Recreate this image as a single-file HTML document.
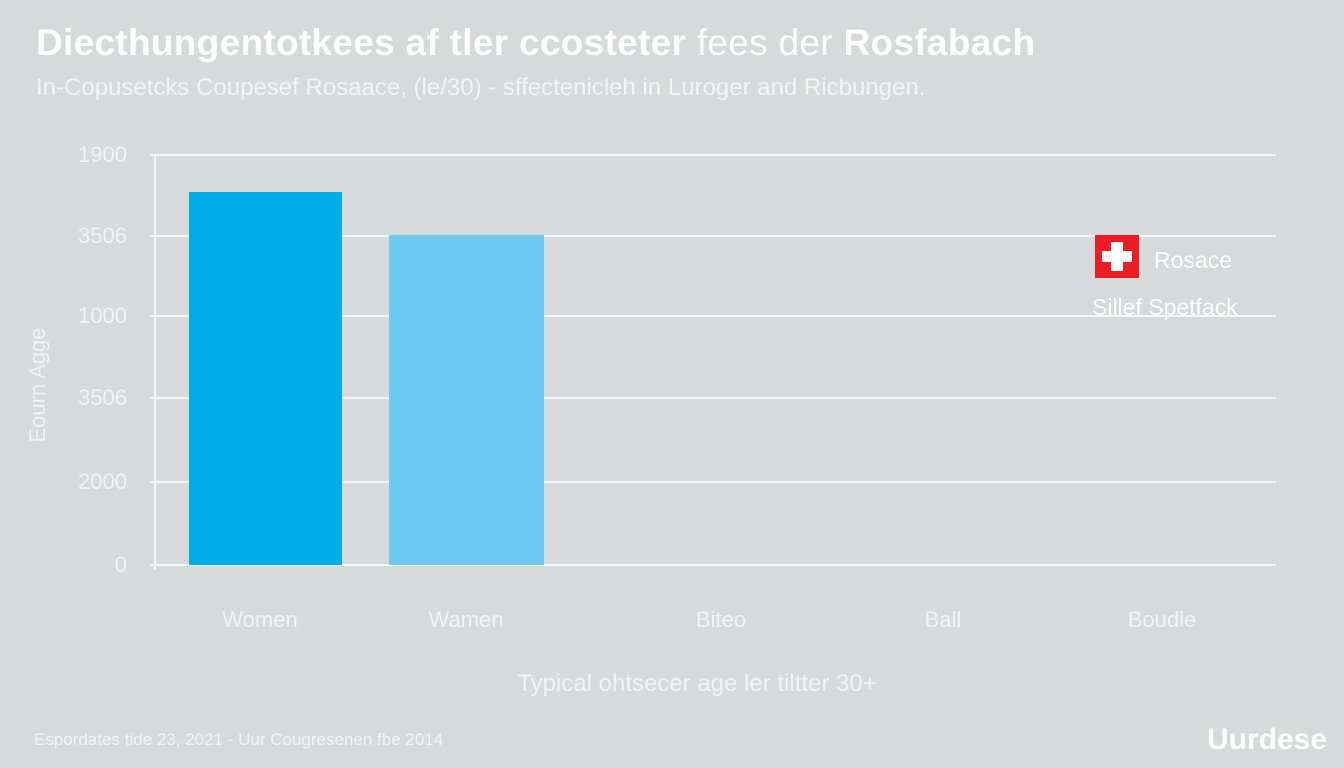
<!DOCTYPE html>
<html><head><style>
body{margin:0;width:1344px;height:768px;background:#d6dadb;font-family:"Liberation Sans",sans-serif;overflow:hidden;position:relative;color:#fff}
.a{position:absolute;white-space:nowrap}
.g{position:absolute;left:150px;width:1126px;height:2px;background:#f4f6f6}
.yl{position:absolute;right:1217px;font-size:22px;color:#f2f4f4}
.xl{position:absolute;font-size:22px;color:#f2f4f4;transform:translateX(-50%)}
</style></head><body>
<div class="a" style="left:36px;top:22px;font-size:37px;font-weight:bold;letter-spacing:0.3px">Diecthungentotkees af tler ccosteter <span style="font-weight:normal">fees der</span> Rosfabach</div>
<div class="a" style="left:36px;top:74px;font-size:24px;color:#f3f5f5">In-Copusetcks Coupesef Rosaace, (le/30) - sffectenicleh in Luroger and Ricbungen.</div>
<div class="g" style="top:154px"></div>
<div class="g" style="top:235px"></div>
<div class="g" style="top:315px"></div>
<div class="g" style="top:397px"></div>
<div class="g" style="top:481px"></div>
<div class="g" style="top:564px"></div>
<div class="a" style="left:154px;top:155px;width:2px;height:415px;background:#f4f6f6"></div>
<div class="yl" style="top:142px">1900</div>
<div class="yl" style="top:223px">3506</div>
<div class="yl" style="top:303px">1000</div>
<div class="yl" style="top:385px">3506</div>
<div class="yl" style="top:469px">2000</div>
<div class="yl" style="top:552px">0</div>
<div class="a" style="left:38px;top:385px;font-size:22px;transform:translate(-50%,-50%) rotate(-90deg);color:#f2f4f4">Eourn Agge</div>
<div class="a" style="left:189px;top:192px;width:153px;height:373px;background:#00adea"></div>
<div class="a" style="left:389px;top:235px;width:155px;height:330px;background:#6dcbf3"></div>
<div class="a" style="left:1095px;top:235px;width:44px;height:43px;background:#ee1c25"></div>
<div class="a" style="left:1111px;top:242px;width:12px;height:29px;background:#fff"></div>
<div class="a" style="left:1102px;top:251px;width:30px;height:11px;background:#fff"></div>
<div class="a" style="left:1154px;top:247px;font-size:23px">Rosace</div>
<div class="a" style="left:1092px;top:294px;font-size:23px">Sillef Spetfack</div>
<div class="xl" style="left:260px;top:607px">Women</div>
<div class="xl" style="left:466px;top:607px">Wamen</div>
<div class="xl" style="left:721px;top:607px">Biteo</div>
<div class="xl" style="left:943px;top:607px">Ball</div>
<div class="xl" style="left:1162px;top:607px">Boudle</div>
<div class="xl" style="left:697px;top:670px;font-size:24px">Typical ohtsecer age ler tiltter 30+</div>
<div class="a" style="left:34px;top:730px;font-size:17px;color:#f2f4f4">Espordates tide 23, 2021 - Uur Cougresenen fbe 2014</div>
<div class="a" style="right:17px;top:723px;font-size:30px;font-weight:bold">Uurdese</div>
</body></html>
